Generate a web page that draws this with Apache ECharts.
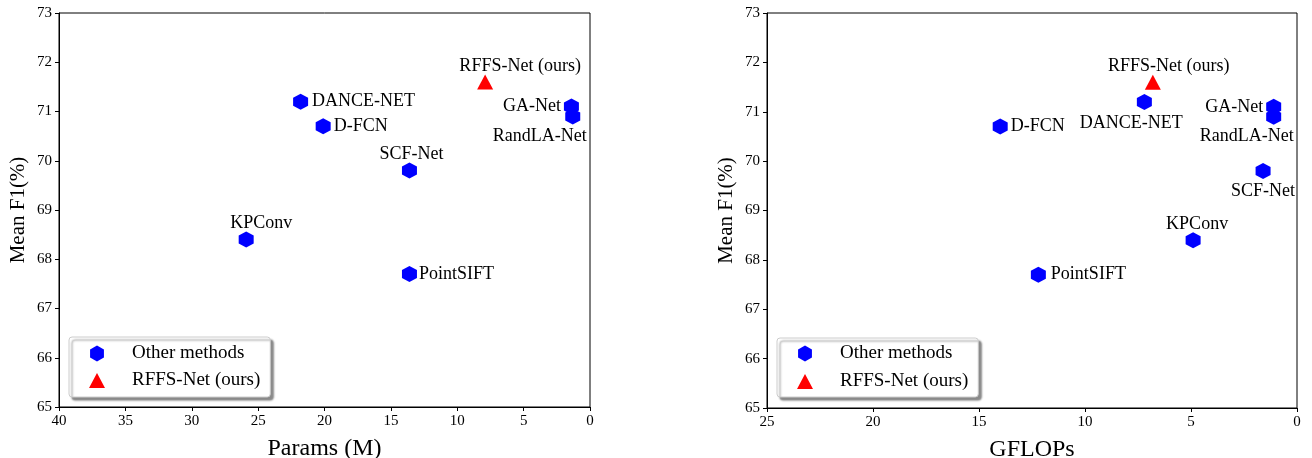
<!DOCTYPE html>
<html>
<head>
<meta charset="utf-8">
<script src="https://cdn.jsdelivr.net/npm/echarts@6/dist/echarts.min.js"></script>
<style>html,body{margin:0;padding:0;background:#fff}#c{width:1312px;height:458px}</style>
</head>
<body>
<div id="c"></div>
<script>
// ---- data ----
const methods = ['DANCE-NET', 'D-FCN', 'GA-Net', 'RandLA-Net', 'SCF-Net', 'KPConv', 'PointSIFT'];
const meanF1 = [71.2, 70.7, 71.1, 70.9, 69.8, 68.4, 67.7];
const paramsM = [21.8, 20.1, 1.4, 1.3, 13.6, 25.9, 13.6];
const gflops = [7.2, 14.0, 1.1, 1.1, 1.6, 4.9, 12.2];
const oursName = 'RFFS-Net (ours)';
const oursF1 = [71.6];
const oursParams = [7.9];
const oursGflops = [6.8];
const yTicks = [65, 66, 67, 68, 69, 70, 71, 72, 73];
const legendNames = ['Other methods', 'RFFS-Net (ours)'];

// ---- label placement (style, not data) ----
const leftLabelPos = {
  'DANCE-NET': {position: 'right', distance: 4},
  'D-FCN': {position: 'right', distance: 3},
  'GA-Net': {position: 'left', distance: 3},
  'RandLA-Net': {position: 'bottom', distance: 3, offset: [-33, 0]},
  'SCF-Net': {position: 'top', distance: -1, offset: [2, 0]},
  'KPConv': {position: 'top', distance: -1, offset: [15, 0]},
  'PointSIFT': {position: 'right', distance: 2},
  'RFFS-Net (ours)': {position: 'top', distance: -1, offset: [35, 0]}
};
const rightLabelPos = {
  'DANCE-NET': {position: 'bottom', distance: 4, offset: [-13, 0]},
  'D-FCN': {position: 'right', distance: 3},
  'GA-Net': {position: 'left', distance: 3},
  'RandLA-Net': {position: 'bottom', distance: 3, offset: [-27, 0]},
  'SCF-Net': {position: 'bottom', distance: 3},
  'KPConv': {position: 'top', distance: -1, offset: [4, 0]},
  'PointSIFT': {position: 'right', distance: 5},
  'RFFS-Net (ours)': {position: 'top', distance: -1, offset: [16, 0]}
};

const FONT = 'Liberation Serif';
const HEX = 'path://M0,-1L0.866,-0.5L0.866,0.5L0,1L-0.866,0.5L-0.866,-0.5Z';
const TRI = 'path://M0,-0.9375L1,0.9375L-1,0.9375Z';
const labelStyle = {show: true, color: '#000', fontFamily: FONT, fontSize: 18};

function pts(xs, ys, names, pos) {
  return xs.map((x, i) => ({
    value: [x, ys[i]],
    name: names[i],
    label: Object.assign({}, labelStyle, pos[names[i]], {formatter: names[i]})
  }));
}

function xAxisCfg(gridIndex, max, name) {
  return {
    type: 'value', gridIndex, min: 0, max, interval: 5, inverse: true,
    name, nameLocation: 'middle', nameGap: 30,
    nameTextStyle: {fontFamily: FONT, fontSize: 24, color: '#000'},
    axisLine: {show: true, onZero: false, lineStyle: {color: '#000', width: 1}},
    axisTick: {show: true, length: 4, lineStyle: {color: '#000'}},
    axisLabel: {fontFamily: FONT, fontSize: 15, color: '#000', margin: 7},
    splitLine: {show: false}
  };
}
function yAxisCfg(gridIndex) {
  return {
    type: 'value', gridIndex, min: yTicks[0], max: yTicks[yTicks.length - 1], interval: 1,
    name: 'Mean F1(%)', nameLocation: 'middle', nameGap: 30,
    nameTextStyle: {fontFamily: FONT, fontSize: 21, color: '#000'},
    axisLine: {show: true, onZero: false, lineStyle: {color: '#000', width: 1}},
    axisTick: {show: true, length: 4, lineStyle: {color: '#000'}},
    axisLabel: {fontFamily: FONT, fontSize: 15, color: '#000', margin: 7},
    splitLine: {show: false}
  };
}
function legendCfg(left, top, gap, pad) {
  return {
    left, top, orient: 'vertical',
    data: [{name: legendNames[0], icon: HEX}, {name: legendNames[1], icon: TRI}],
    itemWidth: 16, itemHeight: 16, itemGap: gap,
    padding: pad,
    textStyle: {fontFamily: FONT, fontSize: 19, color: '#000', padding: [0, 0, 0, 22]},
    backgroundColor: '#fff', borderColor: '#cccccc', borderWidth: 1, borderRadius: 3,
    shadowColor: 'rgba(0,0,0,0.45)', shadowBlur: 2, shadowOffsetX: 3, shadowOffsetY: 3,
    selectedMode: false
  };
}

const hexStyle = {color: '#0000ff', opacity: 1};
const triStyle = {color: '#ff0000', opacity: 1};

const option = {
  backgroundColor: '#fff',
  animation: false,
  grid: [
    {left: 59, right: 722, top: 13, bottom: 51, show: true, borderColor: '#000', borderWidth: 1,
     backgroundColor: 'transparent', containLabel: false, outerBoundsMode: 'none'},
    {left: 767, right: 15, top: 13, bottom: 50, show: true, borderColor: '#000', borderWidth: 1,
     backgroundColor: 'transparent', containLabel: false, outerBoundsMode: 'none'}
  ],
  xAxis: [xAxisCfg(0, 40, 'Params (M)'), xAxisCfg(1, 25, 'GFLOPs')],
  yAxis: [yAxisCfg(0), yAxisCfg(1)],
  legend: [legendCfg(69, 337, 8, [7, 10, 7, 20]), legendCfg(777, 338, 9, [6, 10, 6, 20])],
  series: [
    {type: 'scatter', name: legendNames[0], xAxisIndex: 0, yAxisIndex: 0, symbol: HEX, symbolSize: [15, 16],
     itemStyle: hexStyle, data: pts(paramsM, meanF1, methods, leftLabelPos)},
    {type: 'scatter', name: legendNames[1], xAxisIndex: 0, yAxisIndex: 0, symbol: TRI, symbolSize: [16, 15],
     itemStyle: triStyle, data: pts(oursParams, oursF1, [oursName], leftLabelPos)},
    {type: 'scatter', name: legendNames[0], xAxisIndex: 1, yAxisIndex: 1, symbol: HEX, symbolSize: [15, 16],
     itemStyle: hexStyle, data: pts(gflops, meanF1, methods, rightLabelPos)},
    {type: 'scatter', name: legendNames[1], xAxisIndex: 1, yAxisIndex: 1, symbol: TRI, symbolSize: [16, 15],
     itemStyle: triStyle, data: pts(oursGflops, oursF1, [oursName], rightLabelPos)}
  ]
};
const chart = echarts.init(document.getElementById('c'), null, {renderer: 'canvas'});
chart.setOption(option);
</script>
</body>
</html>
